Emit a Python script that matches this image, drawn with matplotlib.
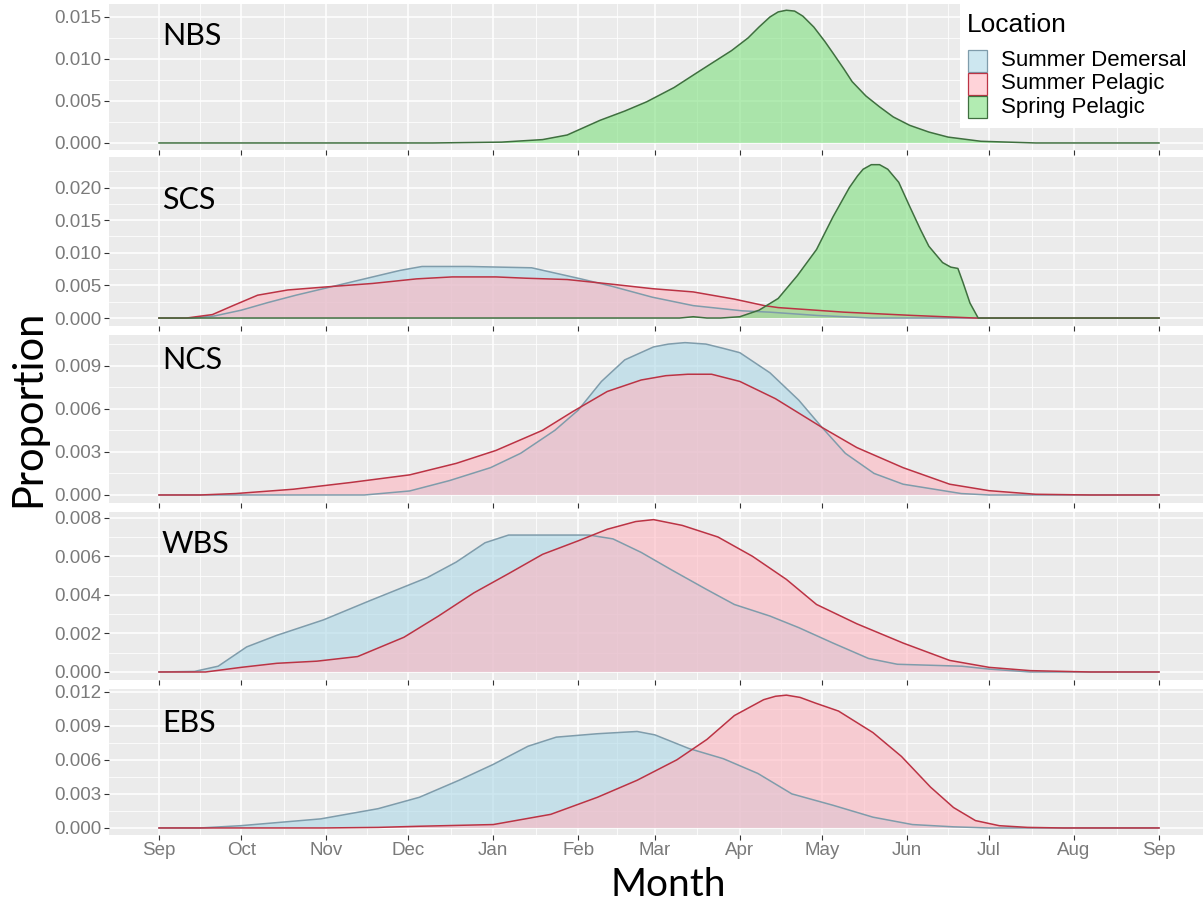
import matplotlib

matplotlib.use("Agg")
import matplotlib.pyplot as plt
from matplotlib.patches import Rectangle
from matplotlib.ticker import FixedLocator, FormatStrFormatter, MultipleLocator

# day offsets are counted from 1 September
month_days = [0, 30, 61, 91, 122, 153, 181, 212, 242, 273, 303, 334, 365]
month_labels = ["Sep", "Oct", "Nov", "Dec", "Jan", "Feb", "Mar",
                "Apr", "May", "Jun", "Jul", "Aug", "Sep"]

# NBS
nbs_spring_days = [0, 100, 125, 140, 149, 161, 170, 178, 188, 197, 209, 215,
                   219, 223, 226, 229, 232, 235, 239, 243, 246, 250, 253, 258,
                   263, 268, 274, 281, 288, 300, 320, 365]
nbs_spring_vals = [0, 0, 0.0001, 0.0004, 0.00095, 0.0027, 0.0038, 0.0049,
                   0.0066, 0.0085, 0.011, 0.0125, 0.0138, 0.015, 0.0156,
                   0.0158, 0.0157, 0.0151, 0.0138, 0.0121, 0.0107, 0.0088,
                   0.0073, 0.0056, 0.0043, 0.0031, 0.0021, 0.0013, 0.0007,
                   0.0002, 0, 0]

# SCS
scs_dem_days = [0, 12, 20, 30, 40, 50, 62, 78, 88, 96, 113, 136, 154, 165,
                180, 195, 213, 223, 240, 260, 365]
scs_dem_vals = [0, 0, 0.0003, 0.0012, 0.0024, 0.0035, 0.0047, 0.0063, 0.0073,
                0.0079, 0.0079, 0.0077, 0.006, 0.0049, 0.0032, 0.0019, 0.0011,
                0.0009, 0.0004, 0, 0]
scs_pel_days = [0, 10, 19.5, 27, 36, 47, 62, 78, 94, 107, 123, 134, 149, 165,
                180, 195, 210, 221, 226, 250, 275, 298, 365]
scs_pel_vals = [0, 0, 0.00053, 0.0019, 0.0035, 0.0043, 0.0048, 0.0053, 0.006,
                0.0063, 0.0063, 0.0061, 0.0059, 0.0052, 0.0045, 0.004, 0.0029,
                0.0019, 0.0016, 0.0009, 0.0004, 0, 0]
scs_spring_days = [0, 190, 195, 200, 205, 212, 219, 226, 233, 240, 246, 252,
                   255, 257, 260, 263, 266, 270, 274, 278, 281, 286, 289,
                   291.6, 293.5, 296, 299, 365]
scs_spring_vals = [0, 0, 0.0002, 0, 0, 0.0002, 0.0012, 0.003, 0.0065, 0.0105,
                   0.0155, 0.02, 0.0218, 0.0228, 0.0235, 0.0235, 0.0228,
                   0.0208, 0.0171, 0.0135, 0.011, 0.0085, 0.0078, 0.0076,
                   0.0054, 0.0023, 0, 0]

# NCS
ncs_dem_days = [0, 75, 91.5, 106, 121, 132, 144.5, 153, 161.5, 170, 180.5,
                186, 192, 199.6, 206, 212, 223, 233.5, 242, 250.5, 261, 271.6,
                292.8, 303, 365]
ncs_dem_vals = [0, 0, 0.00028, 0.001, 0.0019, 0.0029, 0.0045, 0.0059, 0.0079,
                0.0094, 0.0103, 0.0105, 0.0106, 0.0105, 0.0102, 0.0099, 0.0085,
                0.0066, 0.0047, 0.0029, 0.0015, 0.00075, 0.0001, 0, 0]
ncs_pel_days = [0, 15, 28, 49, 70, 91.5, 108.5, 123, 140, 151, 163.6, 176,
                185, 193, 201.7, 212, 225, 242, 254.7, 271.6, 288.6, 303, 320,
                340, 365]
ncs_pel_vals = [0, 0, 0.0001, 0.0004, 0.00087, 0.0014, 0.0022, 0.0031, 0.0045,
                0.0058, 0.0072, 0.008, 0.0083, 0.0084, 0.0084, 0.0079, 0.0067,
                0.0047, 0.0033, 0.0019, 0.00075, 0.0003, 0.00005, 0, 0]

# WBS
wbs_dem_days = [0, 13, 21.6, 32, 43, 60, 77, 98, 108.5, 119, 127.6, 144.5,
                157, 165.7, 176, 187, 199.6, 210, 223, 233.5, 246, 259, 269.5,
                293, 303, 318, 365]
wbs_dem_vals = [0, 0.00003, 0.0003, 0.0013, 0.0019, 0.0027, 0.0037, 0.0049,
                0.0057, 0.0067, 0.0071, 0.0071, 0.0071, 0.0069, 0.0062, 0.0053,
                0.0043, 0.0035, 0.0029, 0.0023, 0.0015, 0.0007, 0.0004, 0.0003,
                0.00015, 0, 0]
wbs_pel_days = [0, 17, 30, 43, 57.6, 72.5, 89.4, 102, 114.9, 127.6, 140, 153,
                163.6, 174, 180.5, 191, 204, 216.6, 229, 240, 254.7, 271.6,
                288.6, 303, 318, 340, 365]
wbs_pel_vals = [0, 0, 0.00024, 0.00045, 0.00056, 0.0008, 0.0018, 0.0029,
                0.0041, 0.0051, 0.0061, 0.0068, 0.0074, 0.0078, 0.0079, 0.0076,
                0.007, 0.006, 0.0048, 0.0035, 0.0025, 0.0015, 0.0006, 0.00024,
                0.00007, 0, 0]

# EBS
ebs_dem_days = [0, 15, 29.8, 59, 80, 95, 109.5, 122, 134.7, 145, 160, 174.5,
                181, 193.4, 206, 218.6, 231, 246, 260.6, 275, 290, 303, 365]
ebs_dem_vals = [0, 0, 0.0002, 0.0008, 0.0017, 0.0027, 0.0042, 0.0056, 0.0072,
                0.008, 0.0083, 0.0085, 0.0082, 0.007, 0.0061, 0.0048, 0.003,
                0.002, 0.00095, 0.0003, 0.0001, 0, 0]
ebs_pel_days = [0, 60, 80, 95, 122, 143, 160, 174.5, 189, 200, 210, 220.7,
                225, 229, 234, 239.6, 248, 260.6, 271, 281.6, 290, 298, 306.7,
                317, 330, 365]
ebs_pel_vals = [0, 0, 0.00005, 0.00015, 0.0003, 0.0012, 0.0027, 0.0042, 0.006,
                0.0078, 0.0099, 0.0113, 0.0116, 0.0117, 0.0115, 0.011, 0.0103,
                0.0084, 0.0063, 0.0036, 0.0018, 0.00065, 0.0002, 0.00005, 0, 0]

location_names = ["Summer Demersal", "Summer Pelagic", "Spring Pelagic"]
fill_colors = {"Summer Demersal": "#add8e6", "Summer Pelagic": "#ffb6c1",
               "Spring Pelagic": "#7fe07f"}
edge_colors = {"Summer Demersal": "#7f9cab", "Summer Pelagic": "#bb3344",
               "Spring Pelagic": "#3f6f3f"}
fill_alpha = 0.6

panels = [
    ("NBS", 0.005, [("Spring Pelagic", nbs_spring_days, nbs_spring_vals)]),
    ("SCS", 0.005, [("Summer Demersal", scs_dem_days, scs_dem_vals),
                    ("Summer Pelagic", scs_pel_days, scs_pel_vals),
                    ("Spring Pelagic", scs_spring_days, scs_spring_vals)]),
    ("NCS", 0.003, [("Summer Demersal", ncs_dem_days, ncs_dem_vals),
                    ("Summer Pelagic", ncs_pel_days, ncs_pel_vals)]),
    ("WBS", 0.002, [("Summer Demersal", wbs_dem_days, wbs_dem_vals),
                    ("Summer Pelagic", wbs_pel_days, wbs_pel_vals)]),
    ("EBS", 0.003, [("Summer Demersal", ebs_dem_days, ebs_dem_vals),
                    ("Summer Pelagic", ebs_pel_days, ebs_pel_vals)]),
]

# panel extents in pixels (top, bottom) and label centre heights
W, H = 1203, 915
panel_px = [(3.6, 149.6), (157, 325.7), (335, 502.6), (512, 679.6), (688.5, 834.6)]
label_px = [36, 200, 360, 544, 723]
left_px, width_px = 109, 1100

tick_font = "Liberation Sans"
title_font = ["Lato", "DejaVu Sans"]


def fx(px):
    return px / W


def fy(py):
    return 1 - py / H


fig = plt.figure(figsize=(W / 100, H / 100), dpi=100)
fig.patch.set_facecolor("white")

for i, (name, step, series) in enumerate(panels):
    top, bottom = panel_px[i]
    ax = fig.add_axes([fx(left_px), fy(bottom), width_px / W, (bottom - top) / H])
    ax.set_facecolor("#ebebeb")
    for s in ax.spines.values():
        s.set_visible(False)

    for loc, days, vals in series:
        ax.fill_between(days, vals, 0, facecolor=fill_colors[loc],
                        alpha=fill_alpha, linewidth=0, zorder=2)
        ax.plot(days, vals, color=edge_colors[loc], lw=1.1, zorder=3)

    peak = max(max(v) for _, _, v in series)
    ax.set_ylim(-0.05 * peak, 1.05 * peak)
    ax.set_xlim(-0.05 * 365, 1.05 * 365)

    ax.yaxis.set_major_locator(MultipleLocator(step))
    ax.yaxis.set_minor_locator(MultipleLocator(step / 2))
    ax.yaxis.set_major_formatter(FormatStrFormatter("%.3f"))
    ax.xaxis.set_major_locator(FixedLocator(month_days))
    mids = [(a + b) / 2 for a, b in zip(month_days[:-1], month_days[1:])]
    ax.xaxis.set_minor_locator(FixedLocator(mids))

    ax.grid(which="major", color="white", lw=1.1, zorder=0)
    ax.grid(which="minor", color="white", lw=0.55, zorder=0)
    ax.set_axisbelow(True)

    ax.tick_params(which="major", length=3.5, width=0.8, color="#333333",
                   labelsize=13.5, labelcolor="#7a7a7a", pad=2)
    ax.tick_params(which="minor", length=0)
    for lab in ax.get_yticklabels():
        lab.set_fontfamily(tick_font)

    if i == len(panels) - 1:
        ax.set_xticklabels(month_labels, fontfamily=tick_font)
    else:
        ax.set_xticklabels([])

    fig.text(fx(162), fy(label_px[i]), name, fontsize=22,
             family=title_font, va="center", ha="left", color="black")

fig.text(fx(28), fy(408), "Proportion", rotation=90, fontsize=30,
         family=title_font, va="center", ha="center")
fig.text(fx(668), fy(885), "Month", fontsize=28,
         family=title_font, va="center", ha="center")

# legend box in the top right corner
fig.patches.append(Rectangle((fx(960), fy(128)), (W - 960) / W, 128 / H,
                             transform=fig.transFigure, facecolor="white",
                             edgecolor="none", zorder=5))
fig.text(fx(967), fy(25), "Location", fontsize=19, family=tick_font,
         va="center", ha="left", zorder=6)
key_top = 50
for k, name in enumerate(location_names):
    y0 = key_top + k * 23
    fig.patches.append(Rectangle((fx(968), fy(y0 + 22)), 19 / W, 22 / H,
                                 transform=fig.transFigure,
                                 facecolor=fill_colors[name], alpha=fill_alpha,
                                 edgecolor="none", zorder=6))
    fig.patches.append(Rectangle((fx(968), fy(y0 + 22)), 19 / W, 22 / H,
                                 transform=fig.transFigure, facecolor="none",
                                 edgecolor=edge_colors[name], lw=0.9, zorder=7))
    fig.text(fx(1001), fy(y0 + 11), name, fontsize=16, family=tick_font,
             va="center", ha="left", zorder=7)

fig.savefig("out.png", dpi=100)
